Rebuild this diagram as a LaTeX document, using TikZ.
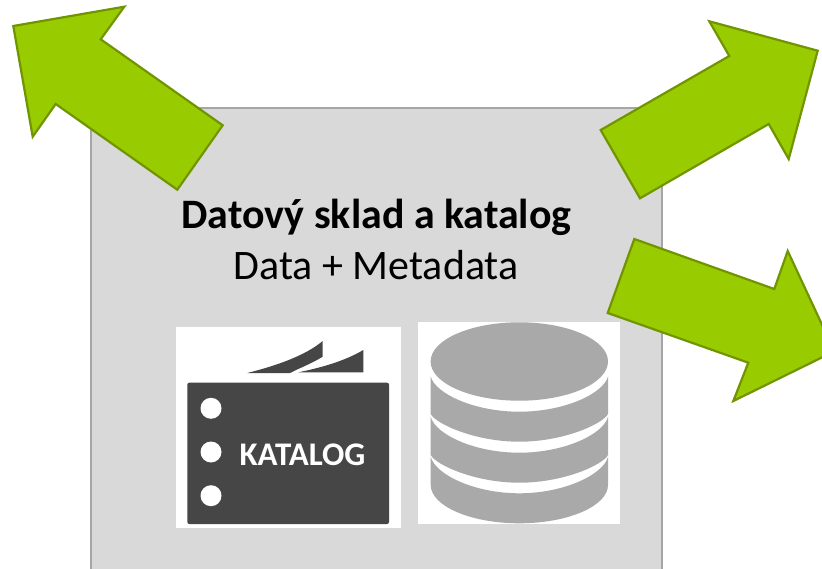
\documentclass[tikz,border=0pt]{standalone}
\usepackage{fontspec}
\setmainfont{Carlito}
\definecolor{panelfill}{HTML}{D9D9D9}
\definecolor{panelline}{HTML}{A6A6A6}
\definecolor{arrowfill}{HTML}{99CC00}
\definecolor{arrowline}{HTML}{719500}
\definecolor{bookdark}{HTML}{464646}
\definecolor{dbgrey}{HTML}{A9A9A9}
\tikzset{
  panel/.style={fill=panelfill,draw=panelline,line width=2.8pt},
  bigarrow/.style={fill=arrowfill,draw=arrowline,line width=2.2pt,line join=miter},
  hole/.style={circle,fill=white,draw=none,minimum size=21pt,inner sep=0pt},
  whitebox/.style={fill=white,draw=none},
  booktext/.style={text=white,font=\bfseries\fontsize{33}{36}\selectfont,inner sep=0pt},
  titletext/.style={text=black,font=\bfseries\fontsize{41.9}{46}\selectfont,inner sep=0pt},
  subtext/.style={text=black,font=\fontsize{42}{46}\selectfont,inner sep=0pt}
}
% band of the stack: y of top edge, sag of top arc, y of bottom edge, sag of bottom arc
\newcommand{\dbband}[4]{%
  \fill[dbgrey] (430.7,#1)
    .. controls (436,#1+0.5*#2) and (475,#1+#2) .. (519.3,#1+#2)
    .. controls (563.6,#1+#2) and (602.7,#1+0.5*#2) .. (608,#1)
    -- (608,#3)
    .. controls (602.7,#3+0.36*#4) and (563.6,#3+#4) .. (519.3,#3+#4)
    .. controls (475,#3+#4) and (436,#3+0.36*#4) .. (430.7,#3)
    -- cycle;}
\begin{document}
\begin{tikzpicture}[x=1pt,y=-1pt]
\useasboundingbox (0,0) rectangle (822,569);
\clip (0,0) rectangle (822,569);
\fill[white] (0,0) rectangle (822,569);
% panel
\draw[panel] (91,108) rectangle (662,590);
% texts
\node[titletext] (title) at (376.5,217) {Datový sklad a katalog};
\node[subtext] (sub) at (376,265) {Data + Metadata};
% catalogue picture
\fill[whitebox] (176,326.7) rectangle (401,528);
\fill[bookdark,rounded corners=2pt] (187.3,382.7) rectangle (389,524);
\fill[bookdark] (247.3,373) .. controls (275,366) and (305,356) .. (322.7,341) -- (322.7,356.7) .. controls (314,362) and (305,366) .. (296,370) -- (290,373) -- cycle;
\fill[bookdark] (298.3,372.3) .. controls (320,368) and (345,361) .. (363.3,350) -- (363.3,372.3) -- cycle;
\node[hole] (h1) at (211,408.3) {};
\node[hole] (h2) at (211,452) {};
\node[hole] (h3) at (211,495.7) {};
\node[booktext] (kat) at (302.5,454.3) {KATALOG};
% database picture
\fill[whitebox] (417.7,321.7) rectangle (620,524);
\fill[dbgrey] (519.3,361.5) ellipse[x radius=88.7,y radius=39.2];
\dbband{376.7}{35}{414}{27.7}
\dbband{417}{35.7}{455}{27.7}
\fill[dbgrey] (430.7,457)
    .. controls (436,475) and (475,493.3) .. (519.3,493.3)
    .. controls (563.6,493.3) and (602.7,475) .. (608,457)
    -- (608,485)
    .. controls (608,506) and (568,523.3) .. (519.3,523.3)
    .. controls (470.6,523.3) and (430.7,506) .. (430.7,485)
    -- cycle;
% arrows
\draw[bigarrow] (13.3,26) -- (124.3,6.7) -- (100.7,39.3) -- (222.7,125.3) -- (177.3,189.7) -- (55.7,104) -- (32.7,136.7) -- cycle;
\draw[bigarrow] (817.7,50.7) -- (709.3,21.3) -- (729.3,56) -- (600.7,130) -- (640,198.3) -- (768.7,124) -- (788.7,159) -- cycle;
\draw[bigarrow] (834.4,351.3) -- (787.7,251) -- (774.3,289) -- (634.3,239) -- (607.7,313) -- (748.3,362.7) -- (733.3,401) -- cycle;
\end{tikzpicture}
\end{document}
